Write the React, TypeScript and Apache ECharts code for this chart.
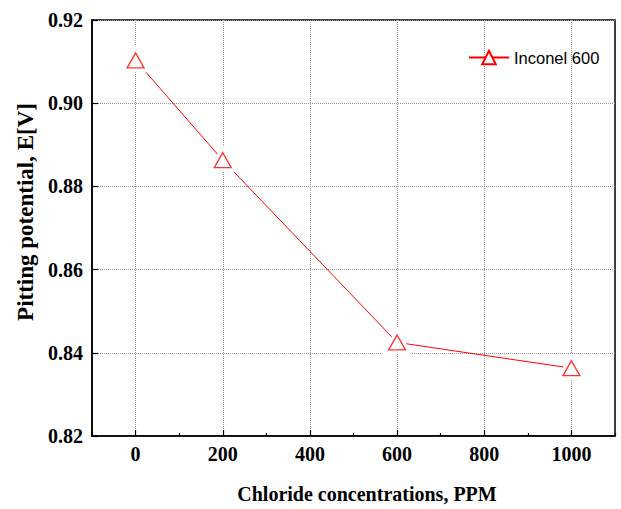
import React, { useEffect, useRef } from "react";
import * as echarts from "echarts";

const concentrations = [0, 200, 600, 1000];
const pittingPotential = [0.9103, 0.8863, 0.8425, 0.8363];
const xMajorTicks = [0, 200, 400, 600, 800, 1000];
const xMinorTicks = [-100, 100, 300, 500, 700, 900, 1100];
const seriesName = "Inconel 600";
const xTitle = "Chloride concentrations, PPM";
const yTitle = "Pitting potential, E[V]";

export default function App() {
  const ref = useRef<HTMLDivElement>(null);
  useEffect(() => {
    if (!ref.current) return;
    const chart = echarts.init(ref.current, undefined, { renderer: "svg" });
    const pts = concentrations.map((c, i) => [c, pittingPotential[i]]);
    const serif = "'Liberation Serif', 'Times New Roman', serif";
    chart.setOption({
      animation: false,
      backgroundColor: "#fff",
      grid: {
        left: 92,
        right: 6,
        top: 20,
        bottom: 73,
        show: true,
        borderColor: "#000",
        borderWidth: 1.5,
        backgroundColor: "transparent",
      },
      legend: {
        data: [seriesName],
        top: 44,
        left: 463,
        itemWidth: 40,
        itemHeight: 17,
        textStyle: { fontFamily: "'Liberation Sans', Arial, sans-serif", fontSize: 16.5, color: "#000" },
      },
      graphic: [
        {
          type: "text",
          x: 25,
          y: 212,
          rotation: Math.PI / 2,
          style: {
            text: yTitle,
            fontFamily: serif,
            fontWeight: "bold",
            fontSize: 23,
            fill: "#000",
            textAlign: "center",
            textVerticalAlign: "middle",
          },
        },
        {
          type: "text",
          x: 367,
          y: 494,
          style: {
            text: xTitle,
            fontFamily: serif,
            fontWeight: "bold",
            fontSize: 20,
            fill: "#000",
            textAlign: "center",
            textVerticalAlign: "middle",
          },
        },
      ],
      xAxis: [
        {
          type: "value",
          min: -100,
          max: 1100,
          interval: 100,
          axisLine: { show: true, onZero: false, lineStyle: { color: "#000", width: 1.5 } },
          axisTick: { show: true, inside: true, length: 6, customValues: xMajorTicks, lineStyle: { color: "#000", width: 1.2 } },
          axisLabel: {
            customValues: xMajorTicks,
            margin: 8,
            fontFamily: serif,
            fontWeight: "bold",
            fontSize: 20,
            color: "#000",
            formatter: (v: number) => String(v),
          },
          splitLine: { show: true, lineStyle: { color: "#9a9a9a", type: "dotted", width: 1 } },
        },
        {
          type: "value",
          min: -100,
          max: 1100,
          position: "bottom",
          axisLine: { show: false },
          axisTick: { show: true, inside: true, length: 3, customValues: xMinorTicks, lineStyle: { color: "#000", width: 1.2 } },
          axisLabel: { show: false },
          splitLine: { show: false },
        },
      ],
      yAxis: {
        type: "value",
        min: 0.82,
        max: 0.92,
        interval: 0.02,
        axisLine: { show: true, onZero: false, lineStyle: { color: "#000", width: 1.5 } },
        axisTick: { show: true, inside: true, length: 6, lineStyle: { color: "#000", width: 1.2 } },
        axisLabel: {
          margin: 9,
          fontFamily: serif,
          fontWeight: "bold",
          fontSize: 20,
          color: "#000",
          formatter: (v: number) => v.toFixed(2),
        },
        splitLine: { show: true, lineStyle: { color: "#9a9a9a", type: "dotted", width: 1 } },
      },
      series: [
        {
          name: seriesName,
          type: "line",
          data: pts,
          z: 2,
          symbol: "triangle",
          symbolSize: [17, 15],
          showSymbol: true,
          lineStyle: { color: "#ff0000", width: 1 },
          itemStyle: { color: "#fff", borderColor: "#ff0000", borderWidth: 1.3 },
        },
        {
          type: "line",
          data: pts,
          z: 3,
          silent: true,
          symbol: "triangle",
          symbolSize: [20, 18],
          showSymbol: true,
          lineStyle: { width: 0, opacity: 0 },
          itemStyle: { color: "#fff", borderColor: "#fff", borderWidth: 6 },
        },
        {
          type: "scatter",
          data: pts,
          z: 4,
          silent: true,
          symbol: "triangle",
          symbolSize: [17, 15],
          itemStyle: { color: "transparent", borderColor: "#ff0000", borderWidth: 1.3 },
        },
      ],
    });
    return () => chart.dispose();
  }, []);
  return <div ref={ref} style={{ width: 621, height: 509, position: "absolute", left: 0, top: 0 }} />;
}
